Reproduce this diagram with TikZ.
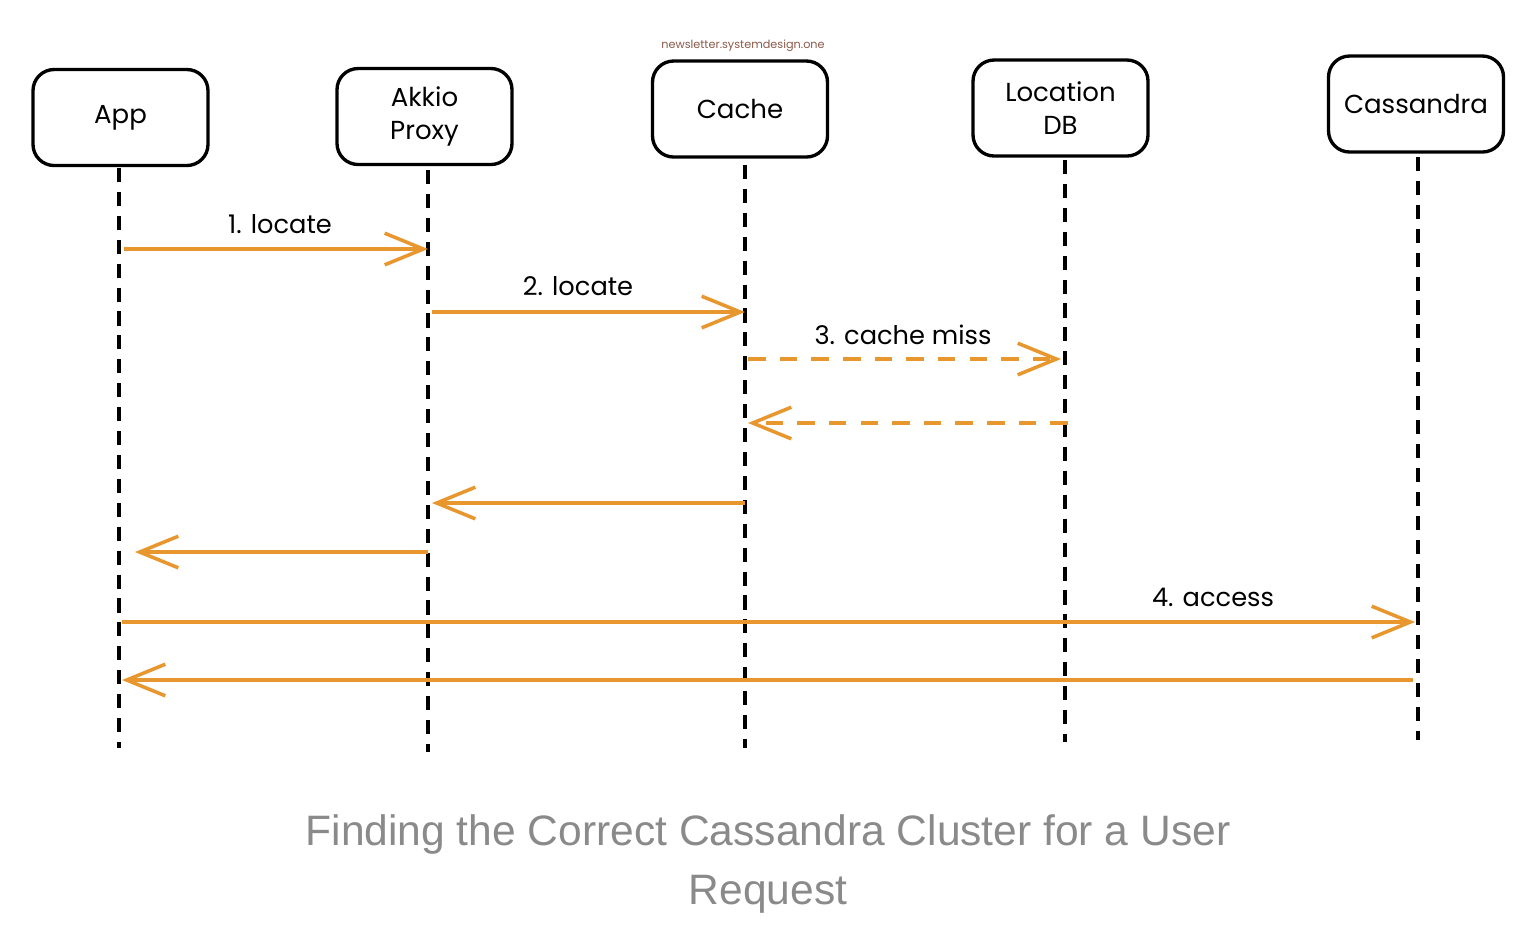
\documentclass[tikz,border=0pt]{standalone}
\usepackage{fontspec}
\setmainfont{Liberation Sans}
\newfontfamily\handfont{Poppins}
\usetikzlibrary{arrows.meta}
\definecolor{msgorange}{HTML}{E8962E}
\definecolor{captiongray}{HTML}{8A8A8A}
\definecolor{wmbrown}{HTML}{8C5A4A}
\tikzset{
  actor/.style={draw=black, line width=0.95pt, rounded corners=6pt, minimum width=175*0.01cm, minimum height=96*0.01cm, align=center, font=\handfont\fontsize{7.4}{9.6}\selectfont, inner sep=0pt},
  lifeline/.style={draw=black, line width=1pt, dash pattern=on 4pt off 2.8pt},
  msg/.style={draw=msgorange, line width=1pt, -{Straight Barb[length=11pt,width=9pt,line width=1pt]}},
  msgdash/.style={msg, line width=1.1pt, dash pattern=on 5pt off 4pt},
  lbl/.style={font=\handfont\fontsize{7.3}{9}\selectfont, text=black, inner sep=0pt}
}
\begin{document}
\begin{tikzpicture}[x=0.01cm,y=-0.01cm]
\useasboundingbox (0,0) rectangle (1540,944);
\fill[white] (0,0) rectangle (1540,944);
% actors
\node[actor] (app) at (120.5,117.5) {App};
\node[actor] (proxy) at (424.5,116.5) {Akkio\\Proxy};
\node[actor] (cache) at (740,109) {Cache};
\node[actor] (locdb) at (1060.5,108) {Location\\DB};
\node[actor] (cass) at (1416,104) {Cassandra};
\node[font=\handfont\fontsize{3.2}{4}\selectfont, text=wmbrown, inner sep=0pt] (wm) at (743,46) {newsletter.systemdesign.one};
% lifelines
\coordinate (appT) at (119,168);  \coordinate (appB) at (119,748);
\coordinate (proxyT) at (428,170); \coordinate (proxyB) at (428,752);
\coordinate (cacheT) at (745,165); \coordinate (cacheB) at (745,748);
\coordinate (locT) at (1065,160); \coordinate (locB) at (1065,742);
\coordinate (cassT) at (1418,157); \coordinate (cassB) at (1418,740);
\draw[lifeline] (appT) -- (appB);
\draw[lifeline] (proxyT) -- (proxyB);
\draw[lifeline] (cacheT) -- (cacheB);
\draw[lifeline] (locT) -- (locB);
\draw[lifeline] (cassT) -- (cassB);
% messages
\draw[msg] ([xshift=5*0.01cm]appT |- 0,249) -- (proxyT |- 0,249);
\node[lbl] (l1) at (280,224) {1. locate};
\draw[msg] ([xshift=4*0.01cm]proxyT |- 0,312) -- (cacheT |- 0,312);
\node[lbl] (l2) at (578,286) {2. locate};
\draw[msgdash] ([xshift=3*0.01cm]cacheT |- 0,359) -- ([xshift=-4*0.01cm]locT |- 0,359);
\node[lbl] (l3) at (903,335) {3. cache miss};
\draw[msgdash] ([xshift=3*0.01cm]locT |- 0,423) -- ([xshift=3*0.01cm]cacheT |- 0,423);
\draw[msg] (cacheT |- 0,503) -- ([xshift=4*0.01cm]proxyT |- 0,503);
\draw[msg] (proxyT |- 0,552) -- ([xshift=16*0.01cm]appT |- 0,552);
\draw[msg] ([xshift=3*0.01cm]appT |- 0,622) -- ([xshift=-3*0.01cm]cassT |- 0,622);
\node[lbl] (l4) at (1213,597) {4. access};
\draw[msg] ([xshift=-5*0.01cm]cassT |- 0,680) -- ([xshift=3*0.01cm]appT |- 0,680);
% caption
\node[font=\fontsize{12.1}{17}\selectfont, text=captiongray, align=center, inner sep=0pt] (cap) at (768,864) {Finding the Correct Cassandra Cluster for a User\\Request};
\end{tikzpicture}
\end{document}
